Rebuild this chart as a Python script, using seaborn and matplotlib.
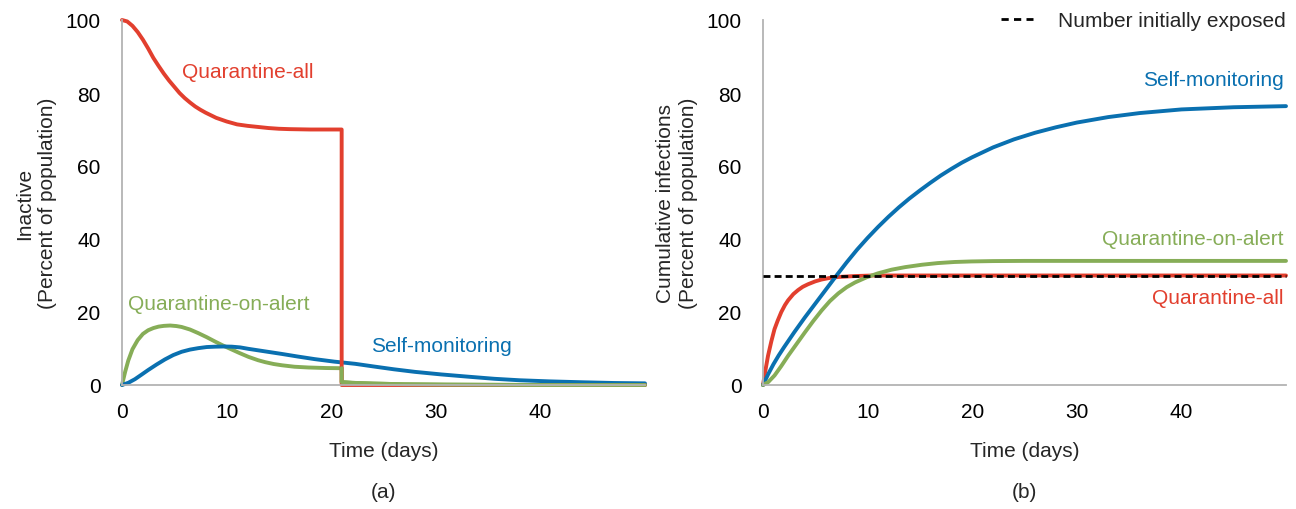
import numpy as np
import pandas as pd
import seaborn as sns
import matplotlib
matplotlib.use("Agg")
import matplotlib.pyplot as plt
from matplotlib.lines import Line2D

# ---------------- data ----------------
# Panel (a): inactive, percent of population
qa_inactive_t = [0, 0.5, 1, 1.5, 2, 2.5, 3, 3.5, 4, 4.5, 5, 5.5, 6, 6.5, 7, 7.5, 8, 9, 10, 11, 12,
                 13, 14, 15, 16, 17, 18, 21, 21, 30, 40, 50]
qa_inactive_v = [100, 99.6, 98.4, 96.7, 94.6, 92.2, 89.6, 87.4, 85.3, 83.4, 81.7, 80.0, 78.6, 77.4,
                 76.3, 75.4, 74.6, 73.2, 72.2, 71.4, 71.0, 70.7, 70.4, 70.2, 70.1, 70.05, 70.0,
                 70.0, 0, 0, 0, 0]

qoa_inactive_t = [0, 0.3, 0.6, 1.0, 1.5, 2.0, 2.5, 3.0, 3.5, 4.0, 4.6, 5.2, 5.7, 6.5, 7.3, 8.1,
                  8.9, 9.6, 10.2, 11.2, 12.1, 13.0, 13.7, 14.5, 15.3, 16.5, 17.8, 19.5, 21, 21,
                  22, 24, 27, 31, 40, 50]
qoa_inactive_v = [0, 3.6, 6.7, 9.8, 12.3, 14.0, 15.0, 15.6, 16.0, 16.2, 16.3, 16.15, 15.9, 15.2,
                  14.2, 13.1, 11.9, 10.9, 10.1, 8.8, 7.7, 6.8, 6.25, 5.75, 5.4, 5.0, 4.8, 4.65,
                  4.6, 0.8, 0.6, 0.4, 0.2, 0.1, 0, 0]

sm_inactive_t = [0, 0.6, 1.24, 1.9, 2.5, 3.3, 4.1, 4.9, 5.7, 6.5, 7.3, 8.1, 8.9, 9.7, 10.5, 11.3,
                 12.1, 13.7, 15.3, 16.8, 18.4, 20.3, 22.3, 24, 26, 28, 30.5, 33, 35.6, 38, 40.8,
                 44, 47, 50]
sm_inactive_v = [0, 0.6, 1.6, 2.9, 4.1, 5.6, 7.0, 8.2, 9.1, 9.7, 10.1, 10.4, 10.5, 10.55, 10.5,
                 10.3, 9.9, 9.2, 8.5, 7.8, 7.1, 6.4, 5.8, 5.1, 4.3, 3.6, 2.9, 2.3, 1.7, 1.3, 1.0,
                 0.75, 0.55, 0.45]

# Panel (b): cumulative infections, percent of population
sm_cum_t = [0, 0.5, 1, 1.5, 2, 3, 4, 5, 6, 7, 8, 9, 10, 11, 12, 13, 14, 15, 16, 17, 18, 19, 20,
            22, 24, 26, 28, 30, 33, 36, 40, 45, 50]
sm_cum_v = [0, 3.0, 5.7, 8.1, 10.3, 14.5, 18.5, 22.3, 26.1, 29.9, 33.6, 37.1, 40.3, 43.3, 46.1,
            48.7, 51.1, 53.3, 55.4, 57.4, 59.2, 60.9, 62.4, 65.1, 67.3, 69.1, 70.6, 71.9, 73.4,
            74.5, 75.5, 76.1, 76.4]

qoa_cum_t = [0, 0.5, 1.1, 1.75, 2.4, 3.2, 4.0, 4.8, 5.6, 6.4, 7.2, 8.0, 8.8, 9.9, 11.0, 12.3,
             13.6, 15.2, 16.7, 18.3, 19.9, 22, 25, 30, 50]
qoa_cum_v = [0, 0.8, 2.6, 5.2, 8.0, 11.2, 14.4, 17.5, 20.4, 23.0, 25.1, 26.8, 28.1, 29.5, 30.6,
             31.6, 32.3, 32.95, 33.4, 33.7, 33.85, 33.95, 34.0, 34.0, 34.0]

qa_cum_t = [0, 0.2, 0.48, 0.8, 1.1, 1.4, 1.75, 2.1, 2.4, 2.9, 3.35, 3.8, 4.3, 5.0, 5.6, 6.4, 7.2,
            8.8, 10.5, 50]
qa_cum_v = [0, 3.5, 8.0, 12.0, 15.3, 17.6, 20.0, 21.9, 23.2, 24.9, 26.0, 26.9, 27.6, 28.4, 28.9,
            29.35, 29.6, 29.85, 30.0, 30.0]

initially_exposed = 30

x_ticks = [0, 10, 20, 30, 40]
y_ticks = [0, 20, 40, 60, 80, 100]

RED = "#e23f2e"
BLUE = "#0a70b0"
GREEN = "#86ad57"
GRAY = "#b3b3b3"
FS = 15

# ---------------- styling ----------------
sns.set_style("white")
plt.rcParams["font.family"] = ["Liberation Sans", "DejaVu Sans"]
plt.rcParams["font.size"] = FS

fig = plt.figure(figsize=(12.96, 5.10), dpi=100)
axA = fig.add_axes([122 / 1296, 1 - 386 / 510, (645 - 122) / 1296, (386 - 21) / 510])
axB = fig.add_axes([763 / 1296, 1 - 386 / 510, (1286 - 763) / 1296, (386 - 21) / 510])

LW = 2.8
DASH = (2.5, 1.5)


def line(ax, t, v, color, **kw):
    df = pd.DataFrame({"t": t, "v": v})
    sns.lineplot(data=df, x="t", y="v", ax=ax, color=color, linewidth=LW,
                 sort=False, estimator=None, clip_on=False, **kw)


# Panel (a)
line(axA, qoa_inactive_t, qoa_inactive_v, GREEN)
line(axA, sm_inactive_t, sm_inactive_v, BLUE)
line(axA, qa_inactive_t, qa_inactive_v, RED)
# green sits on top of red after day 21
line(axA, qoa_inactive_t[28:], qoa_inactive_v[28:], GREEN)

axA.text(5.7, 85.8, "Quarantine-all", color=RED, fontsize=FS, va="center", ha="left")
axA.text(0.55, 22.2, "Quarantine-on-alert", color=GREEN, fontsize=FS, va="center", ha="left")
axA.text(23.8, 10.8, "Self-monitoring", color=BLUE, fontsize=FS, va="center", ha="left")

# Panel (b)
line(axB, qa_cum_t, qa_cum_v, RED)
line(axB, sm_cum_t, sm_cum_v, BLUE)
line(axB, qoa_cum_t, qoa_cum_v, GREEN)
axB.plot([0, 50], [initially_exposed, initially_exposed], color="black", linewidth=2.0,
         dashes=DASH, zorder=5, clip_on=False)

axB.text(49.8, 83.8, "Self-monitoring", color=BLUE, fontsize=FS, va="center", ha="right")
axB.text(49.8, 40.0, "Quarantine-on-alert", color=GREEN, fontsize=FS, va="center", ha="right")
axB.text(49.8, 24.0, "Quarantine-all", color=RED, fontsize=FS, va="center", ha="right")

handle = Line2D([0], [0], color="black", linewidth=2.0, dashes=(2.6, 1.9))
axB.legend([handle], ["Number initially exposed"], loc="upper right",
           bbox_to_anchor=(1286 / 1296, 1 - 12 / 510), bbox_transform=fig.transFigure,
           frameon=False, fontsize=FS, handlelength=1.55, handletextpad=1.2,
           borderaxespad=0, borderpad=0)

for ax, ylab, tag in [(axA, "Inactive\n(Percent of population)", "(a)"),
                      (axB, "Cumulative infections\n(Percent of population)", "(b)")]:
    ax.set_xlim(0, 50)
    ax.set_ylim(0, 100)
    ax.set_xticks(x_ticks)
    ax.set_yticks(y_ticks)
    ax.set_xticklabels([str(x) for x in x_ticks])
    ax.set_yticklabels([str(y) for y in y_ticks])
    for s in ["top", "right"]:
        ax.spines[s].set_visible(False)
    for s in ["left", "bottom"]:
        ax.spines[s].set_color(GRAY)
        ax.spines[s].set_linewidth(1.3)
    ax.tick_params(axis="both", colors=GRAY, labelcolor="black", width=1.0, length=10,
                   labelsize=FS, direction="out")
    ax.tick_params(axis="x", pad=2.5)
    ax.tick_params(axis="y", pad=5.5)
    ax.set_xlabel("Time (days)", fontsize=FS, labelpad=14)
    ax.set_ylabel(ylab, fontsize=FS, labelpad=6, linespacing=1.25)
    ax.text(0.5, -0.293, tag, transform=ax.transAxes, ha="center", va="center", fontsize=FS)
    ax.grid(False)

fig.savefig("out.png", dpi=100)
